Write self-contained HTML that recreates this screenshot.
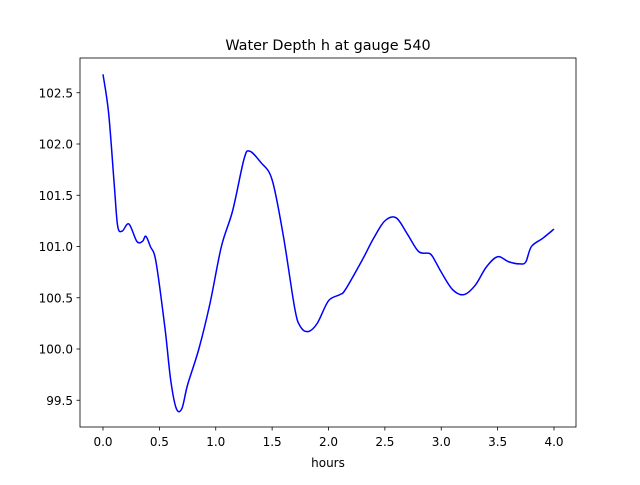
<!DOCTYPE html>
<html><head><meta charset="utf-8"><style>
body{margin:0;background:#fff;}
svg text{font-family:"DejaVu Sans","Liberation Sans",sans-serif;fill:#000;}
</style></head><body>
<svg id="chart" width="640" height="480" viewBox="0 0 640 480" xmlns="http://www.w3.org/2000/svg">
<rect width="640" height="480" fill="#fff"/>
<text x="328" y="50" font-size="14.4" text-anchor="middle">Water Depth h at gauge 540</text>
<g id="xticks"></g>
<g id="yticks"></g>
<path id="line" fill="none" stroke="#0000ff" stroke-width="1.5"/>
<rect x="80" y="58" width="496" height="369" fill="none" stroke="#000" stroke-width="0.8"/>
<text x="328" y="467" font-size="12" text-anchor="middle">hours</text>
</svg>
<script>
const hours=[0,0.05,0.1,0.13,0.17,0.23,0.3,0.35,0.38,0.42,0.47,0.55,0.6,0.65,0.7,0.75,0.85,0.95,1.05,1.15,1.25,1.3,1.4,1.5,1.6,1.7,1.75,1.82,1.9,2.0,2.1,2.15,2.3,2.4,2.5,2.6,2.7,2.8,2.9,2.95,3.0,3.1,3.2,3.3,3.4,3.5,3.6,3.7,3.75,3.8,3.9,4.0];
const depth=[102.68,102.3,101.6,101.2,101.15,101.22,101.05,101.05,101.1,101.0,100.85,100.2,99.7,99.42,99.42,99.65,100.0,100.45,101.0,101.35,101.85,101.93,101.82,101.65,101.1,100.4,100.22,100.17,100.25,100.47,100.53,100.58,100.87,101.08,101.25,101.28,101.12,100.95,100.93,100.85,100.75,100.58,100.53,100.62,100.8,100.9,100.85,100.83,100.85,101.0,101.08,101.17];
const xTickVals=[0,0.5,1,1.5,2,2.5,3,3.5,4];
const xTickLabels=["0.0","0.5","1.0","1.5","2.0","2.5","3.0","3.5","4.0"];
const yTickVals=[99.5,100,100.5,101,101.5,102,102.5];
const yTickLabels=["99.5","100.0","100.5","101.0","101.5","102.0","102.5"];
const X=v=>103+v*112.75;
const Y=v=>349-(v-100)*102.5;
const NS="http://www.w3.org/2000/svg";
const xg=document.getElementById('xticks'),yg=document.getElementById('yticks');
xTickVals.forEach((v,i)=>{
 const l=document.createElementNS(NS,'line');
 
 
 l.setAttribute('x1',X(v));l.setAttribute('x2',X(v));l.setAttribute('y1',427);l.setAttribute('y2',430.5);l.setAttribute('stroke','#000');l.setAttribute('stroke-width','0.8');
 xg.appendChild(l);
 const t=document.createElementNS(NS,'text');
 
 
 t.setAttribute('x',X(v));t.setAttribute('y',446);t.setAttribute('font-size','12');t.setAttribute('text-anchor','middle');
 t.textContent=xTickLabels[i];xg.appendChild(t);
});
yTickVals.forEach((v,i)=>{
 const l=document.createElementNS(NS,'line');
 
 
 l.setAttribute('x1',76.5);l.setAttribute('x2',80);l.setAttribute('y1',Y(v));l.setAttribute('y2',Y(v));l.setAttribute('stroke','#000');l.setAttribute('stroke-width','0.8');
 yg.appendChild(l);
 const t=document.createElementNS(NS,'text');
 
 
 t.setAttribute('x',73);t.setAttribute('y',Y(v)+4.5);t.setAttribute('font-size','12');t.setAttribute('text-anchor','end');
 t.textContent=yTickLabels[i];yg.appendChild(t);
});
const p=hours.map((h,i)=>[X(h),Y(depth[i])]);
let d='M'+p[0][0]+','+p[0][1];
for(let i=0;i<p.length-1;i++){
 const p0=p[Math.max(0,i-1)],p1=p[i],p2=p[i+1],p3=p[Math.min(p.length-1,i+2)];
 const c1=[p1[0]+(p2[0]-p0[0])/6,p1[1]+(p2[1]-p0[1])/6];
 const c2=[p2[0]-(p3[0]-p1[0])/6,p2[1]-(p3[1]-p1[1])/6];
 d+=' C'+c1+' '+c2+' '+p2;
}
document.getElementById('line').setAttribute('d',d);
</script>
</body></html>
